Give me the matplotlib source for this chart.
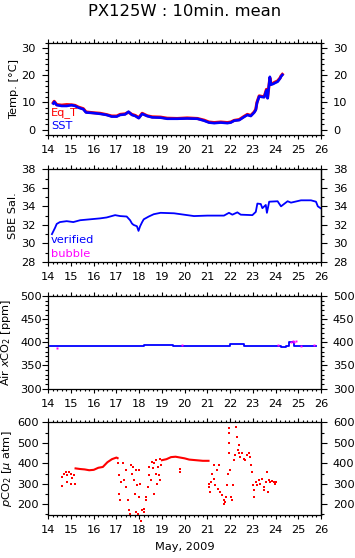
import numpy as np
import matplotlib
matplotlib.use("Agg")
import matplotlib.pyplot as plt
from matplotlib.ticker import MultipleLocator

plt.rcParams["font.family"] = ["DejaVu Sans"]
plt.rcParams["mathtext.fontset"] = "dejavusans"

# ---- temperature (day of May 2009, degC)
sst_day = [14.22, 14.26, 14.37, 14.59, 14.81, 15.03, 15.18, 15.32, 15.54, 15.66, 15.98,
           16.28, 16.57, 16.79, 17.01, 17.16, 17.38, 17.53, 17.68, 17.83, 17.98, 18.13,
           18.35, 18.57, 18.94, 19.23, 19.67, 20.11, 20.56, 20.85, 21.07, 21.3, 21.59,
           21.88, 22.03, 22.18, 22.4, 22.62, 22.76, 22.91, 23.06, 23.13, 23.18, 23.28,
           23.4, 23.5, 23.6, 23.65, 23.75, 23.8, 23.9, 23.94, 24.09, 24.2, 24.24, 24.3]
sst = [9.6, 10.2, 9.0, 8.7, 8.7, 9.0, 8.7, 8.1, 7.5, 6.3, 6.1,
       5.8, 5.4, 4.8, 4.8, 5.4, 5.6, 6.6, 5.4, 5.0, 4.2, 5.8,
       5.0, 4.5, 4.4, 4.0, 4.0, 4.1, 4.0, 3.3, 2.6, 2.4, 2.6,
       2.4, 2.6, 3.3, 3.5, 4.7, 5.4, 5.0, 6.3, 7.2, 9.7, 12.2,
       12.0, 11.9, 14.5, 11.5, 19.4, 16.5, 16.8, 17.0, 17.6, 18.8, 19.5, 20.1]
eqt = [9.9, 10.4, 9.2, 9.0, 9.2, 9.1, 8.9, 8.3, 7.7, 6.5, 6.2,
       6.0, 5.5, 5.0, 5.0, 5.6, 5.8, 6.4, 5.6, 5.2, 4.4, 6.0,
       5.1, 4.7, 4.6, 4.2, 4.1, 4.3, 4.1, 3.5, 2.8, 2.6, 2.8,
       2.6, 2.8, 3.4, 3.7, 4.9, 5.6, 5.2, 6.5, 7.5, 10.0, 12.4,
       12.2, 12.1, 14.8, 11.8, 19.0, 16.8, 17.0, 17.3, 17.9, 19.0, 19.7, 20.3]

# ---- salinity
sal_day = [14.16, 14.3, 14.37, 14.51, 14.81, 15.1, 15.4, 15.84, 16.28, 16.57, 16.94,
           17.16, 17.45, 17.6, 17.68, 17.75, 17.9, 17.97, 18.04, 18.13, 18.2, 18.42,
           18.64, 18.94, 19.53, 19.97, 20.41, 21.0, 21.73, 21.95, 22.1, 22.32, 22.47,
           22.98, 23.13, 23.2, 23.35, 23.42, 23.57, 23.62, 23.72, 24.09, 24.24, 24.53,
           24.68, 25.12, 25.56, 25.78, 25.86, 25.98]
sal = [31.0, 31.7, 32.1, 32.3, 32.4, 32.3, 32.5, 32.6, 32.7, 32.8, 33.05,
       32.95, 32.9, 32.5, 32.15, 32.0, 31.85, 31.35, 31.85, 32.3, 32.6, 32.9,
       33.15, 33.3, 33.25, 33.1, 32.95, 33.0, 33.0, 33.3, 33.1, 33.35, 33.1,
       33.05, 33.4, 34.3, 34.25, 33.8, 34.15, 33.3, 34.5, 34.55, 34.0, 34.55,
       34.4, 34.65, 34.65, 34.5, 34.0, 33.8]

# ---- air xCO2 (steps)
xco2_day = [14.06, 14.35, 15.4, 15.8, 16.9, 17.1, 18.2, 19.5, 22.0, 22.6, 22.9,
            23.5, 24.25, 24.45, 24.6, 24.8, 24.9, 25.8]
xco2 = [391, 393, 391, 393, 391, 393, 394.6, 393, 396, 393, 391,
        393, 389.5, 393, 401, 393, 391, 391]
bub_day = [14.37, 19.9, 24.1, 24.68, 24.75, 24.82, 24.9, 25.1, 25.7]
bub = [387, 395, 395, 400, 403, 401, 402, 392, 395]

# ---- pCO2
pline_day = [15.2, 15.4, 15.6, 15.8, 16.0, 16.2, 16.4, 16.6, 16.8, 17.0, 17.05, np.nan,
             19.0, 19.2, 19.4, 19.6, 19.8, 20.0, 20.2, 20.5, 20.8, 21.05]
pline = [375, 372, 370, 366, 368, 378, 382, 405, 420, 428, 425, np.nan,
         415, 420, 430, 432, 428, 424, 418, 415, 412, 412]
pdot_day = [14.62, 14.62, 14.69, 14.77, 14.84, 14.84, 14.91, 14.99, 14.99, 15.06, 15.13, 15.16,
            17.05, 17.1, 17.13, 17.16, 17.2, 17.28, 17.31, 17.4, 17.43, 17.5, 17.57, 17.6,
            17.65, 17.7, 17.72, 17.77, 17.8, 17.85, 17.87, 17.9, 17.94, 17.98, 18.01, 18.04,
            18.09, 18.13, 18.19, 18.23, 18.28, 18.31, 18.38, 18.42, 18.45, 18.53, 18.57, 18.6,
            18.63, 18.67, 18.72, 18.75, 18.78, 18.82, 18.87, 18.9, 18.93, 18.97, 19.78, 19.8,
            21.05, 21.08, 21.12, 21.17, 21.22, 21.27, 21.31, 21.34, 21.42, 21.46, 21.49, 21.56,
            21.64, 21.71, 21.75, 21.78, 21.83, 21.87, 21.9, 21.93, 21.93, 21.96, 21.97, 22.0,
            22.03, 22.08, 22.11, 22.19, 22.22, 22.27, 22.3, 22.33, 22.37, 22.4, 22.44, 22.52,
            22.59, 22.66, 22.74, 22.81, 22.88, 22.93, 22.96, 23.0, 23.03, 23.07, 23.13, 23.18,
            23.25, 23.32, 23.4, 23.47, 23.51, 23.57, 23.62, 23.66, 23.69, 23.76, 23.84, 23.91,
            23.98, 24.04]
pdot = [334, 288, 350, 358, 342, 309, 358, 350, 301, 326, 342, 301,
        399, 342, 252, 220, 309, 399, 317, 366, 285, 220, 171, 154,
        390, 350, 383, 317, 252, 162, 366, 293, 154, 366, 236, 301,
        118, 171, 162, 179, 220, 236, 285, 342, 383, 317, 407, 375,
        252, 399, 350, 415, 301, 383, 342, 419, 317, 390, 370, 358,
        301, 284, 260, 309, 350, 391, 325, 293, 366, 276, 391, 260,
        244, 219, 203, 211, 236, 293, 350, 448, 497, 546, 570, 366,
        236, 223, 293, 415, 440, 575, 530, 464, 489, 448, 431, 448,
        423, 415, 440, 448, 431, 391, 358, 293, 268, 236, 309, 293,
        317, 301, 325, 284, 268, 309, 358, 260, 317, 309, 314, 309,
        301, 309]

RED, BLUE, MAG = "#ff0000", "#0000ff", "#ff00ff"
FS = 8.2

fig = plt.figure(figsize=(3.55, 5.58), dpi=100)
W, H = 355.0, 558.0
left, right = 48.3 / W, 321 / W
tops = [42.5, 169.3, 296, 422.3]
left_pads = [4.7, 4.7, 0.6, 2.4]
label_x = [-0.107, -0.11, -0.128, -0.126]
ph = 92.6


def style_y(a, pad):
    a.tick_params(axis="y", which="both", direction="out", labelsize=FS, width=0.8)
    a.tick_params(axis="y", which="major", length=4.2, pad=pad)
    a.tick_params(axis="y", which="minor", length=2.2)


axes = []
for t, lp, lx in zip(tops, left_pads, label_x):
    ax = fig.add_axes([left, 1 - (t + ph) / H, right - left, ph / H])
    ax.set_xlim(14, 26)
    ax.xaxis.set_major_locator(MultipleLocator(1))
    ax.xaxis.set_minor_locator(MultipleLocator(0.2))
    ax.tick_params(axis="x", which="both", direction="out", top=True,
                   labelsize=FS, width=0.8)
    ax.tick_params(axis="x", which="major", length=3.2, pad=4)
    ax.tick_params(axis="x", which="minor", length=1.7)
    ax.tick_params(axis="y", right=False)
    style_y(ax, lp)
    for s in ax.spines.values():
        s.set_linewidth(0.9)
    ax.yaxis.set_label_coords(lx, 0.5)
    axes.append(ax)

ax1, ax2, ax3, ax4 = axes

ax1.plot(sst_day, eqt, color=RED, lw=2.2)
ax1.plot(sst_day, sst, color=BLUE, lw=1.9)
ax1.set_ylim(-2, 32)
ax1.yaxis.set_major_locator(MultipleLocator(10))
ax1.yaxis.set_minor_locator(MultipleLocator(2))
ax1.set_ylabel("Temp. [°C]", fontsize=FS)
ax1.text(0.01, 0.24, "Eq_T", color=RED, fontsize=FS, transform=ax1.transAxes, va="center")
ax1.text(0.01, 0.10, "SST", color=BLUE, fontsize=FS, transform=ax1.transAxes, va="center")

ax2.plot(sal_day, sal, color=BLUE, lw=1.3)
ax2.set_ylim(28, 38)
ax2.yaxis.set_major_locator(MultipleLocator(2))
ax2.yaxis.set_minor_locator(MultipleLocator(1))
ax2.set_ylabel("SBE Sal.", fontsize=FS)
ax2.text(0.01, 0.235, "verified", color=BLUE, fontsize=FS, transform=ax2.transAxes, va="center")
ax2.text(0.01, 0.09, "bubble", color=MAG, fontsize=FS, transform=ax2.transAxes, va="center")

ax3.plot(xco2_day, xco2, color=BLUE, lw=1.3, drawstyle="steps-post")
ax3.plot(bub_day, bub, ls="none", marker="s", ms=1.4, mew=0, color=MAG)
ax3.set_ylim(300, 500)
ax3.yaxis.set_major_locator(MultipleLocator(50))
ax3.yaxis.set_minor_locator(MultipleLocator(10))
ax3.set_ylabel("Air $x$CO$_2$ [ppm]", fontsize=FS)

ax4.plot(pline_day, pline, color=RED, lw=1.5)
ax4.plot(pdot_day, pdot, ls="none", marker="s", ms=1.7, mew=0, color=RED, clip_on=False)
ax4.set_ylim(148, 600)
ax4.set_yticks([200, 300, 400, 500, 600])
ax4.yaxis.set_minor_locator(MultipleLocator(50))
ax4.set_ylabel("$p$CO$_2$ [$\\mu$ atm]", fontsize=FS)

# right-hand axis copies with their own label spacing
for ax in axes:
    sec = ax.secondary_yaxis("right")
    sec.yaxis.set_major_locator(ax.yaxis.get_major_locator())
    sec.yaxis.set_minor_locator(ax.yaxis.get_minor_locator())
    style_y(sec, 4.4)
    sec.spines["right"].set_linewidth(0.9)

fig.text(184.7 / W, 1 - 12 / H, "PX125W : 10min. mean", ha="center", va="center", fontsize=11.8)
fig.text(184.7 / W, 1 - 546.5 / H, "May, 2009", ha="center", va="center", fontsize=FS)

fig.savefig("out.png", dpi=100, facecolor="w")
